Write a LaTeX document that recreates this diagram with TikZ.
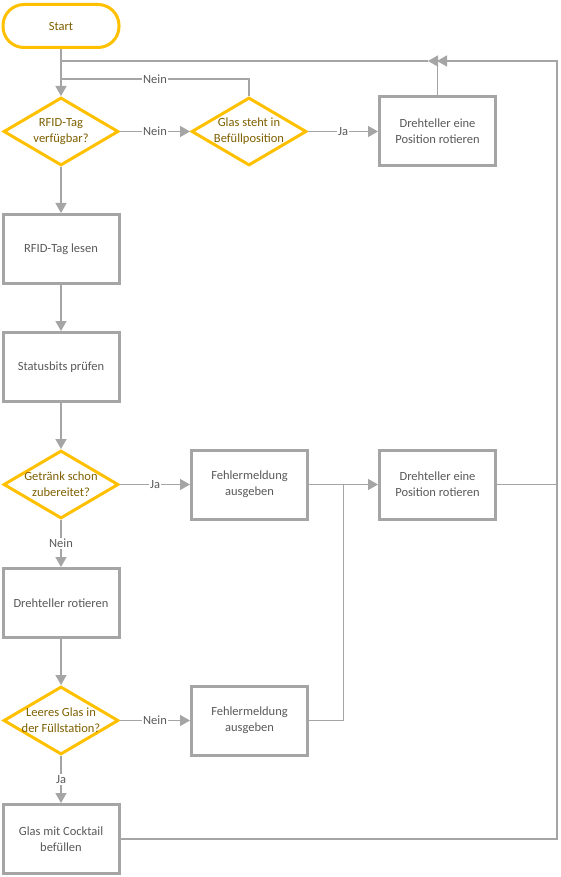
\documentclass[tikz,border=0pt]{standalone}
\usepackage{fontspec}
\setmainfont{Carlito}
\usepackage{tikz}
\usetikzlibrary{shapes.geometric, arrows.meta, positioning, calc}

\definecolor{linegrey}{HTML}{A5A5A5}
\definecolor{gold}{HTML}{FFC000}
\definecolor{goldtext}{HTML}{7F6000}
\definecolor{boxtext}{HTML}{595959}

\begin{document}
\begin{tikzpicture}[
    x=1pt, y=1pt,
    font=\fontsize{12.5}{16}\selectfont,
    startbox/.style = {rectangle, draw=gold, line width=3pt, rounded corners=21pt, minimum width=116pt, minimum height=43pt, text=goldtext, fill=white},
    decision/.style = {diamond, draw=gold, line width=3pt, aspect=1.66, minimum width=115pt, minimum height=68pt, inner sep=-6pt, align=center, text=goldtext, fill=white},
    stepbox/.style = {rectangle, draw=linegrey, line width=3pt, minimum width=116pt, minimum height=69pt, align=center, text=boxtext, fill=white},
    line/.style = {draw=linegrey, line width=1.5pt},
    arr/.style = {line, -{Triangle[length=10pt,width=11pt]}},
    lbl/.style = {fill=white, inner sep=1pt, text=boxtext},
    >=Stealth]

    \useasboundingbox (0,0) rectangle (560,-877);

    \node[startbox] (start) at (61,-26) {Start};
    \node[decision, below=47pt of start] (tag) {RFID-Tag\\verfügbar?};
    \node[decision, right=70pt of tag] (pos) {Glas steht in\\Befüllposition};
    \node[stepbox, right=70pt of pos] (rot1) {Drehteller eine\\Position rotieren};
    \node[stepbox, below=46pt of tag] (read) {RFID-Tag lesen};
    \node[stepbox, below=46pt of read] (bits) {Statusbits prüfen};
    \node[decision, below=46pt of bits] (done) {Getränk schon\\zubereitet?};
    \node[stepbox, right=70pt of done] (err1) {Fehlermeldung\\ausgeben};
    \node[stepbox, right=69pt of err1] (rot2) {Drehteller eine\\Position rotieren};
    \node[stepbox, below=47pt of done] (turn) {Drehteller rotieren};
    \node[decision, below=46pt of turn] (empty) {Leeres Glas in\\der Füllstation?};
    \node[stepbox, right=70pt of empty] (err2) {Fehlermeldung\\ausgeben};
    \node[stepbox, below=47pt of empty] (fill) {Glas mit Cocktail\\befüllen};

    \coordinate (back) at (428,-61);
    \coordinate (back2) at (437,-61);
    \coordinate (ring) at (557,-61);
    \coordinate (join) at ($(err1.east)!0.5!(rot2.west)$);

    \draw[arr] (start) -- (tag);
    \draw[line] (back) -- (back -| tag);
    \draw[arr] (rot1.north) |- (back);
    \draw[arr] (fill.east) -| (ring) -- (back2);
    \draw[line] (pos.north) |- node[lbl, pos=0.75] {Nein} ($(tag.north)+(0,17)$);
    \draw[arr] (tag) -- node[lbl] {Nein} (pos);
    \draw[arr] (pos) -- node[lbl] {Ja} (rot1);
    \draw[arr] (tag) -- (read);
    \draw[arr] (read) -- (bits);
    \draw[arr] (bits) -- (done);
    \draw[arr] (done) -- node[lbl] {Ja} (err1);
    \draw[arr] (err1) -- (rot2);
    \draw[line] (rot2.east) -- (rot2.east -| ring);
    \draw[arr] (done) -- node[lbl] {Nein} (turn);
    \draw[arr] (turn) -- (empty);
    \draw[arr] (empty) -- node[lbl] {Nein} (err2);
    \draw[line] (err2.east) -| (join);
    \draw[arr] (empty) -- node[lbl] {Ja} (fill);

\end{tikzpicture}
\end{document}
